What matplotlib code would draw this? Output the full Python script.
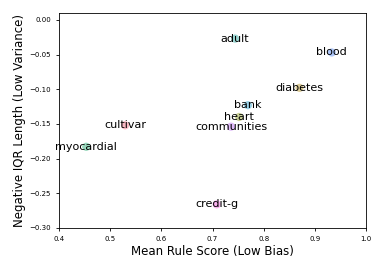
import matplotlib
matplotlib.use("Agg")
import matplotlib.pyplot as plt

datasets = ["adult", "blood", "diabetes", "bank", "heart", "communities",
            "cultivar", "myocardial", "credit-g"]
mean_rule_score = [0.744, 0.933, 0.870, 0.769, 0.752, 0.736, 0.529, 0.453, 0.708]
neg_iqr = [-0.027, -0.047, -0.098, -0.123, -0.140, -0.154, -0.152, -0.183, -0.266]
colors = ["#36ada4", "#5d8ff5", "#bb9a32", "#39a7d0", "#97a431", "#c379f4",
          "#f77189", "#33b07a", "#f561dd"]

fig = plt.figure(figsize=(3.89, 2.59), dpi=100)
ax = fig.add_axes([0.152, 0.12, 0.789, 0.83])

ax.scatter(mean_rule_score, neg_iqr, c=colors, s=35, alpha=0.5, edgecolors="none")
for name, x, y in zip(datasets, mean_rule_score, neg_iqr):
    ax.text(x, y, name, ha="center", va="center", fontsize=8)

ax.set_xlim(0.4, 1.0)
ax.set_ylim(-0.3, 0.01)
ax.set_xticks([0.4, 0.5, 0.6, 0.7, 0.8, 0.9, 1.0])
ax.set_xticklabels(["0.4", "0.5", "0.6", "0.7", "0.8", "0.9", "1.0"])
ax.set_yticks([0.0, -0.05, -0.1, -0.15, -0.2, -0.25, -0.3])
ax.tick_params(labelsize=5, length=2.5, width=0.6)
for s in ax.spines.values():
    s.set_linewidth(0.6)
ax.set_xlabel("Mean Rule Score (Low Bias)", fontsize=8.5, labelpad=2)
ax.set_ylabel("Negative IQR Length (Low Variance)", fontsize=8.5, labelpad=2)

plt.savefig("out.png")
